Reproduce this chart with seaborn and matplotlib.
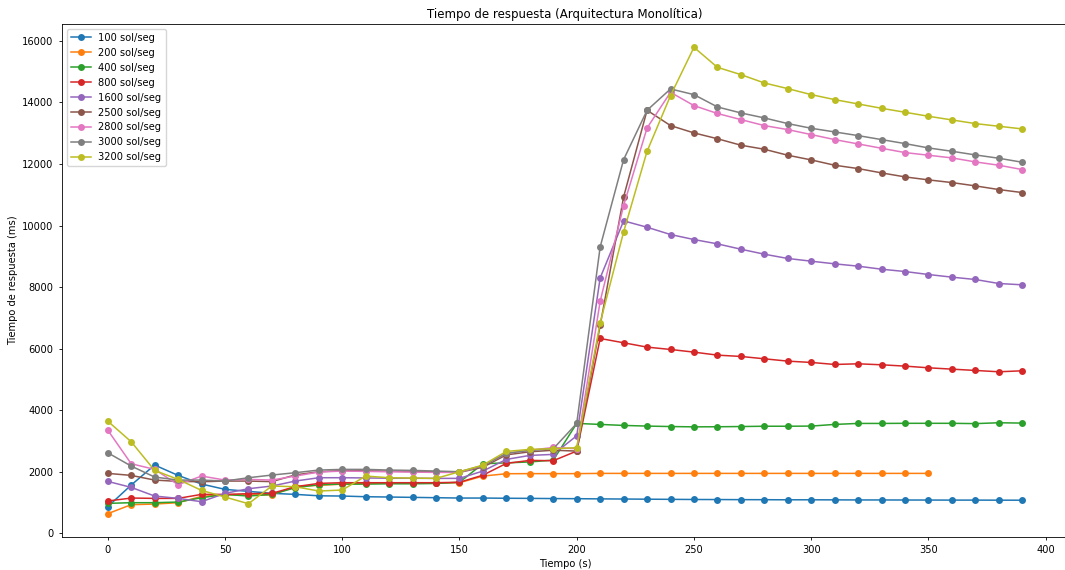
import matplotlib
matplotlib.use("Agg")
import matplotlib.pyplot as plt
import seaborn as sns
import pandas as pd

# tiempo (s)
tiempo = list(range(0, 400, 10))
tiempo_200 = list(range(0, 360, 10))

r100 = [866, 1569, 2219, 1883, 1602, 1429, 1364, 1300, 1266, 1220,
        1212, 1190, 1180, 1169, 1158, 1147, 1147, 1140, 1136, 1130,
        1126, 1120, 1115, 1110, 1105, 1100, 1098, 1095, 1093, 1090,
        1090, 1088, 1085, 1085, 1083, 1082, 1080, 1080, 1078, 1077]
r200 = [639, 931, 952, 996, 1200, 1250, 1250, 1245, 1530, 1560,
        1600, 1620, 1640, 1640, 1640, 1645, 1861, 1937, 1940, 1940,
        1940, 1948, 1948, 1948, 1948, 1948, 1948, 1948, 1948, 1948,
        1948, 1948, 1948, 1948, 1948, 1948]
r400 = [974, 996, 996, 1017, 1158, 1266, 1212, 1266, 1483, 1580,
        1600, 1600, 1610, 1610, 1620, 1660, 2262, 2290, 2320, 2380,
        3571, 3539, 3506, 3485, 3470, 3460, 3463, 3470, 3480, 3480,
        3485, 3539, 3571, 3571, 3575, 3575, 3575, 3565, 3593, 3582]
r800 = [1050, 1147, 1136, 1136, 1266, 1266, 1288, 1300, 1515, 1623,
        1645, 1645, 1645, 1645, 1645, 1660, 1890, 2273, 2370, 2360,
        2673, 6331, 6191, 6050, 5974, 5887, 5790, 5747, 5671, 5595,
        5552, 5487, 5508, 5476, 5433, 5378, 5335, 5292, 5249, 5281]
r1600 = [1688, 1494, 1212, 1136, 1028, 1299, 1450, 1537, 1699, 1807,
         1807, 1800, 1790, 1790, 1786, 1786, 2024, 2403, 2532, 2565,
         3170, 8300, 10152, 9945, 9708, 9545, 9405, 9231, 9069, 8930,
         8842, 8756, 8680, 8581, 8506, 8409, 8323, 8247, 8117, 8074]
r2500 = [1948, 1883, 1731, 1688, 1677, 1699, 1699, 1680, 1900, 2000,
         2040, 2030, 2020, 2010, 2000, 1980, 2150, 2550, 2650, 2700,
         2673, 6753, 10931, 13745, 13247, 13009, 12820, 12610, 12478, 12284,
         12132, 11959, 11851, 11710, 11580, 11483, 11396, 11288, 11169, 11071]
r2800 = [3355, 2262, 2078, 1580, 1861, 1731, 1753, 1731, 1861, 1991,
         2024, 2013, 2000, 1990, 1980, 1980, 2200, 2600, 2700, 2790,
         2750, 7543, 10649, 13171, 14329, 13896, 13640, 13442, 13247, 13117,
         12955, 12792, 12651, 12510, 12370, 12284, 12197, 12067, 11959, 11818]
r3000 = [2619, 2186, 1829, 1731, 1731, 1699, 1807, 1894, 1970, 2056,
         2078, 2078, 2056, 2045, 2024, 2002, 2200, 2597, 2695, 2749,
         3571, 9307, 12143, 13745, 14438, 14253, 13853, 13658, 13496, 13312,
         13160, 13041, 12922, 12792, 12662, 12521, 12413, 12294, 12186, 12056]
r3200 = [3647, 2976, 2045, 1753, 1396, 1180, 963, 1537, 1515, 1375,
         1407, 1861, 1807, 1796, 1786, 2002, 2219, 2662, 2727, 2749,
         2782, 6840, 9795, 12413, 14221, 15790, 15140, 14903, 14632, 14448,
         14253, 14091, 13950, 13809, 13680, 13550, 13431, 13312, 13225, 13139]

series = [
    ("100 sol/seg", tiempo, r100),
    ("200 sol/seg", tiempo_200, r200),
    ("400 sol/seg", tiempo, r400),
    ("800 sol/seg", tiempo, r800),
    ("1600 sol/seg", tiempo, r1600),
    ("2500 sol/seg", tiempo, r2500),
    ("2800 sol/seg", tiempo, r2800),
    ("3000 sol/seg", tiempo, r3000),
    ("3200 sol/seg", tiempo, r3200),
]

colores = sns.color_palette("tab10")

# the reference looks like a bigger figure shrunk down, so everything is ~0.71x
plt.rcParams["font.size"] = 7.1
plt.rcParams["axes.linewidth"] = 0.6
plt.rcParams["xtick.major.width"] = 0.6
plt.rcParams["ytick.major.width"] = 0.6
plt.rcParams["xtick.major.size"] = 2.5
plt.rcParams["ytick.major.size"] = 2.5

fig = plt.figure(figsize=(10.65, 5.7), dpi=100)
ax = fig.add_axes([62 / 1065, 1 - 537 / 570, (1068 - 62) / 1065, (537 - 24) / 570])

for i, (nombre, xs, ys) in enumerate(series):
    df = pd.DataFrame({"t": xs, "r": ys})
    sns.lineplot(data=df, x="t", y="r", ax=ax, color=colores[i], marker="o",
                 markersize=5, markeredgewidth=0, linewidth=1.1, label=nombre)

ax.set_title("Tiempo de respuesta (Arquitectura Monolítica)", fontsize=8.5, pad=4.3)
ax.set_xlabel("Tiempo (s)", labelpad=2.8)
ax.set_ylabel("Tiempo de respuesta (ms)", labelpad=2.8)
ax.legend(loc="upper left", fontsize=7.1)

fig.savefig("out.png", dpi=100)
